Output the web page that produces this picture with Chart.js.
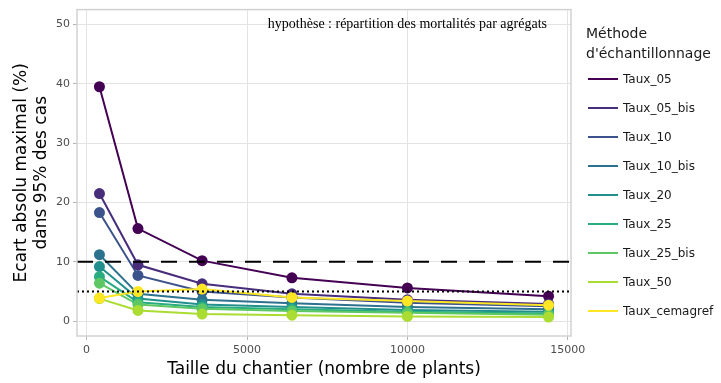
<!DOCTYPE html>
<html>
<head>
<meta charset="utf-8">
<script src="https://cdn.jsdelivr.net/npm/chart.js@4"></script>
<style>
  body { margin: 0; background: #fff; }
  #wrap { position: relative; width: 721px; height: 383px; }
  #legend { position: absolute; left: 586px; top: 23px; font-family: "DejaVu Sans", sans-serif; color: #1a1a1a; }
  #legend .title { font-size: 14px; line-height: 20px; margin-bottom: 1px; }
  #legend .item { height: 29px; display: flex; align-items: center; font-size: 12px; }
  #legend .swatch { width: 30px; height: 2px; margin-left: 2px; margin-right: 5px; }
</style>
</head>
<body>
<div id="wrap">
  <canvas id="chart" width="721" height="383"></canvas>
  <div id="legend"></div>
</div>
<script>
// nombre de plants par chantier
const sizes = [400, 1600, 3600, 6400, 10000, 14400];

const methods = ['Taux_05', 'Taux_05_bis', 'Taux_10', 'Taux_10_bis', 'Taux_20', 'Taux_25', 'Taux_25_bis', 'Taux_50', 'Taux_cemagref'];

// ecart absolu maximal (%) dans 95% des cas
const taux05 = [39.5, 15.6, 10.2, 7.3, 5.6, 4.2];
const taux05bis = [21.5, 9.5, 6.3, 4.6, 3.6, 2.9];
const taux10 = [18.3, 7.7, 5.0, 4.0, 3.1, 2.5];
const taux10bis = [11.2, 4.6, 3.6, 3.0, 2.4, 2.0];
const taux20 = [9.2, 3.8, 2.8, 2.4, 1.9, 1.6];
const taux25 = [7.5, 3.2, 2.4, 2.0, 1.6, 1.3];
const taux25bis = [6.4, 2.8, 2.1, 1.7, 1.4, 1.1];
const taux50 = [3.8, 1.8, 1.2, 1.0, 0.8, 0.7];
const tauxCemagref = [3.9, 5.0, 5.4, 4.0, 3.4, 2.7];

const xTicks = [0, 5000, 10000, 15000];
const yTicks = [0, 10, 20, 30, 40, 50];
const seuils = [10, 5]; // lignes de reference

const series = [taux05, taux05bis, taux10, taux10bis, taux20, taux25, taux25bis, taux50, tauxCemagref];
const colors = ['#440154', '#472D7B', '#3B528B', '#2C728E', '#21908C', '#27AD81', '#5DC863', '#AADC32', '#FDE725'];

const xMin = -300, xMax = 15100, yMin = -2.5, yMax = 52.5;
const n = series.length;

const datasets = [];
series.forEach((vals, i) => {
    const pts = sizes.map((x, j) => ({ x: x, y: vals[j] }));
    // lines first (below), points after, like ggplot layers
    datasets.push({
        label: methods[i], data: pts, borderColor: colors[i], borderWidth: 2,
        pointRadius: 0, pointHoverRadius: 0, order: 100 + n - i
    });
    datasets.push({
        label: methods[i] + '_pts', data: pts, showLine: false,
        pointRadius: 5.5, pointHoverRadius: 5.5, pointBorderWidth: 0,
        pointBackgroundColor: colors[i], backgroundColor: colors[i], borderColor: colors[i],
        order: 50 + n - i
    });
});
datasets.push({
    label: 'seuil10', data: [{ x: xMin, y: seuils[0] }, { x: xMax, y: seuils[0] }],
    borderColor: '#000', borderWidth: 2, borderDash: [16, 12], pointRadius: 0, order: 1
});
datasets.push({
    label: 'seuil5', data: [{ x: xMin, y: seuils[1] }, { x: xMax, y: seuils[1] }],
    borderColor: '#000', borderWidth: 2, borderDash: [2, 3], pointRadius: 0, order: 0
});

const panelPlugin = {
    id: 'panel',
    afterDraw(chart) {
        const ctx = chart.ctx, a = chart.chartArea;
        ctx.save();
        ctx.strokeStyle = '#D2D2D2';
        ctx.lineWidth = 1.5;
        ctx.strokeRect(a.left, a.top, a.right - a.left, a.bottom - a.top);
        // annotation
        ctx.fillStyle = '#000';
        ctx.font = '14px "Liberation Serif", serif';
        ctx.textAlign = 'center';
        ctx.textBaseline = 'middle';
        ctx.fillText('hypothèse : répartition des mortalités par agrégats',
            chart.scales.x.getPixelForValue(10000), chart.scales.y.getPixelForValue(50));
        ctx.restore();
    }
};

new Chart(document.getElementById('chart').getContext('2d'), {
    type: 'line',
    data: { datasets: datasets },
    plugins: [panelPlugin],
    options: {
        responsive: false,
        animation: false,
        devicePixelRatio: 1,
        layout: { padding: { left: 0, right: 150, top: 6, bottom: 0 } },
        plugins: { legend: { display: false }, tooltip: { enabled: false } },
        scales: {
            x: {
                type: 'linear', min: xMin, max: xMax,
                afterBuildTicks: s => { s.ticks = xTicks.map(v => ({ value: v })); },
                afterFit: s => { s.height = 47; },
                grid: { color: '#E3E3E3', lineWidth: 1, tickColor: '#B3B3B3', tickLength: 4 },
                border: { display: false },
                ticks: { color: '#4D4D4D', font: { family: 'DejaVu Sans', size: 11 }, padding: 4, maxRotation: 0,
                    callback: v => String(v) },
                title: { display: true, text: 'Taille du chantier (nombre de plants)', color: '#000',
                    font: { family: 'DejaVu Sans', size: 17 }, padding: { top: 0, bottom: 3 } }
            },
            y: {
                type: 'linear', min: yMin, max: yMax,
                afterBuildTicks: s => { s.ticks = yTicks.map(v => ({ value: v })); },
                afterFit: s => { s.width = 77; },
                grid: { color: '#E3E3E3', lineWidth: 1, tickColor: '#B3B3B3', tickLength: 4 },
                border: { display: false },
                ticks: { color: '#4D4D4D', font: { family: 'DejaVu Sans', size: 11 }, padding: 3,
                    callback: v => String(v) },
                title: { display: true, text: ['Ecart absolu maximal (%)', 'dans 95% des cas'], color: '#000',
                    font: { family: 'DejaVu Sans', size: 17 }, padding: { top: 11, bottom: 0 } }
            }
        }
    }
});

// legende
const legend = document.getElementById('legend');
legend.innerHTML = '<div class="title">Méthode<br>d\'échantillonnage</div>' +
    methods.map((m, i) => '<div class="item"><span class="swatch" style="background:' + colors[i] + '"></span>' + m + '</div>').join('');
</script>
</body>
</html>
